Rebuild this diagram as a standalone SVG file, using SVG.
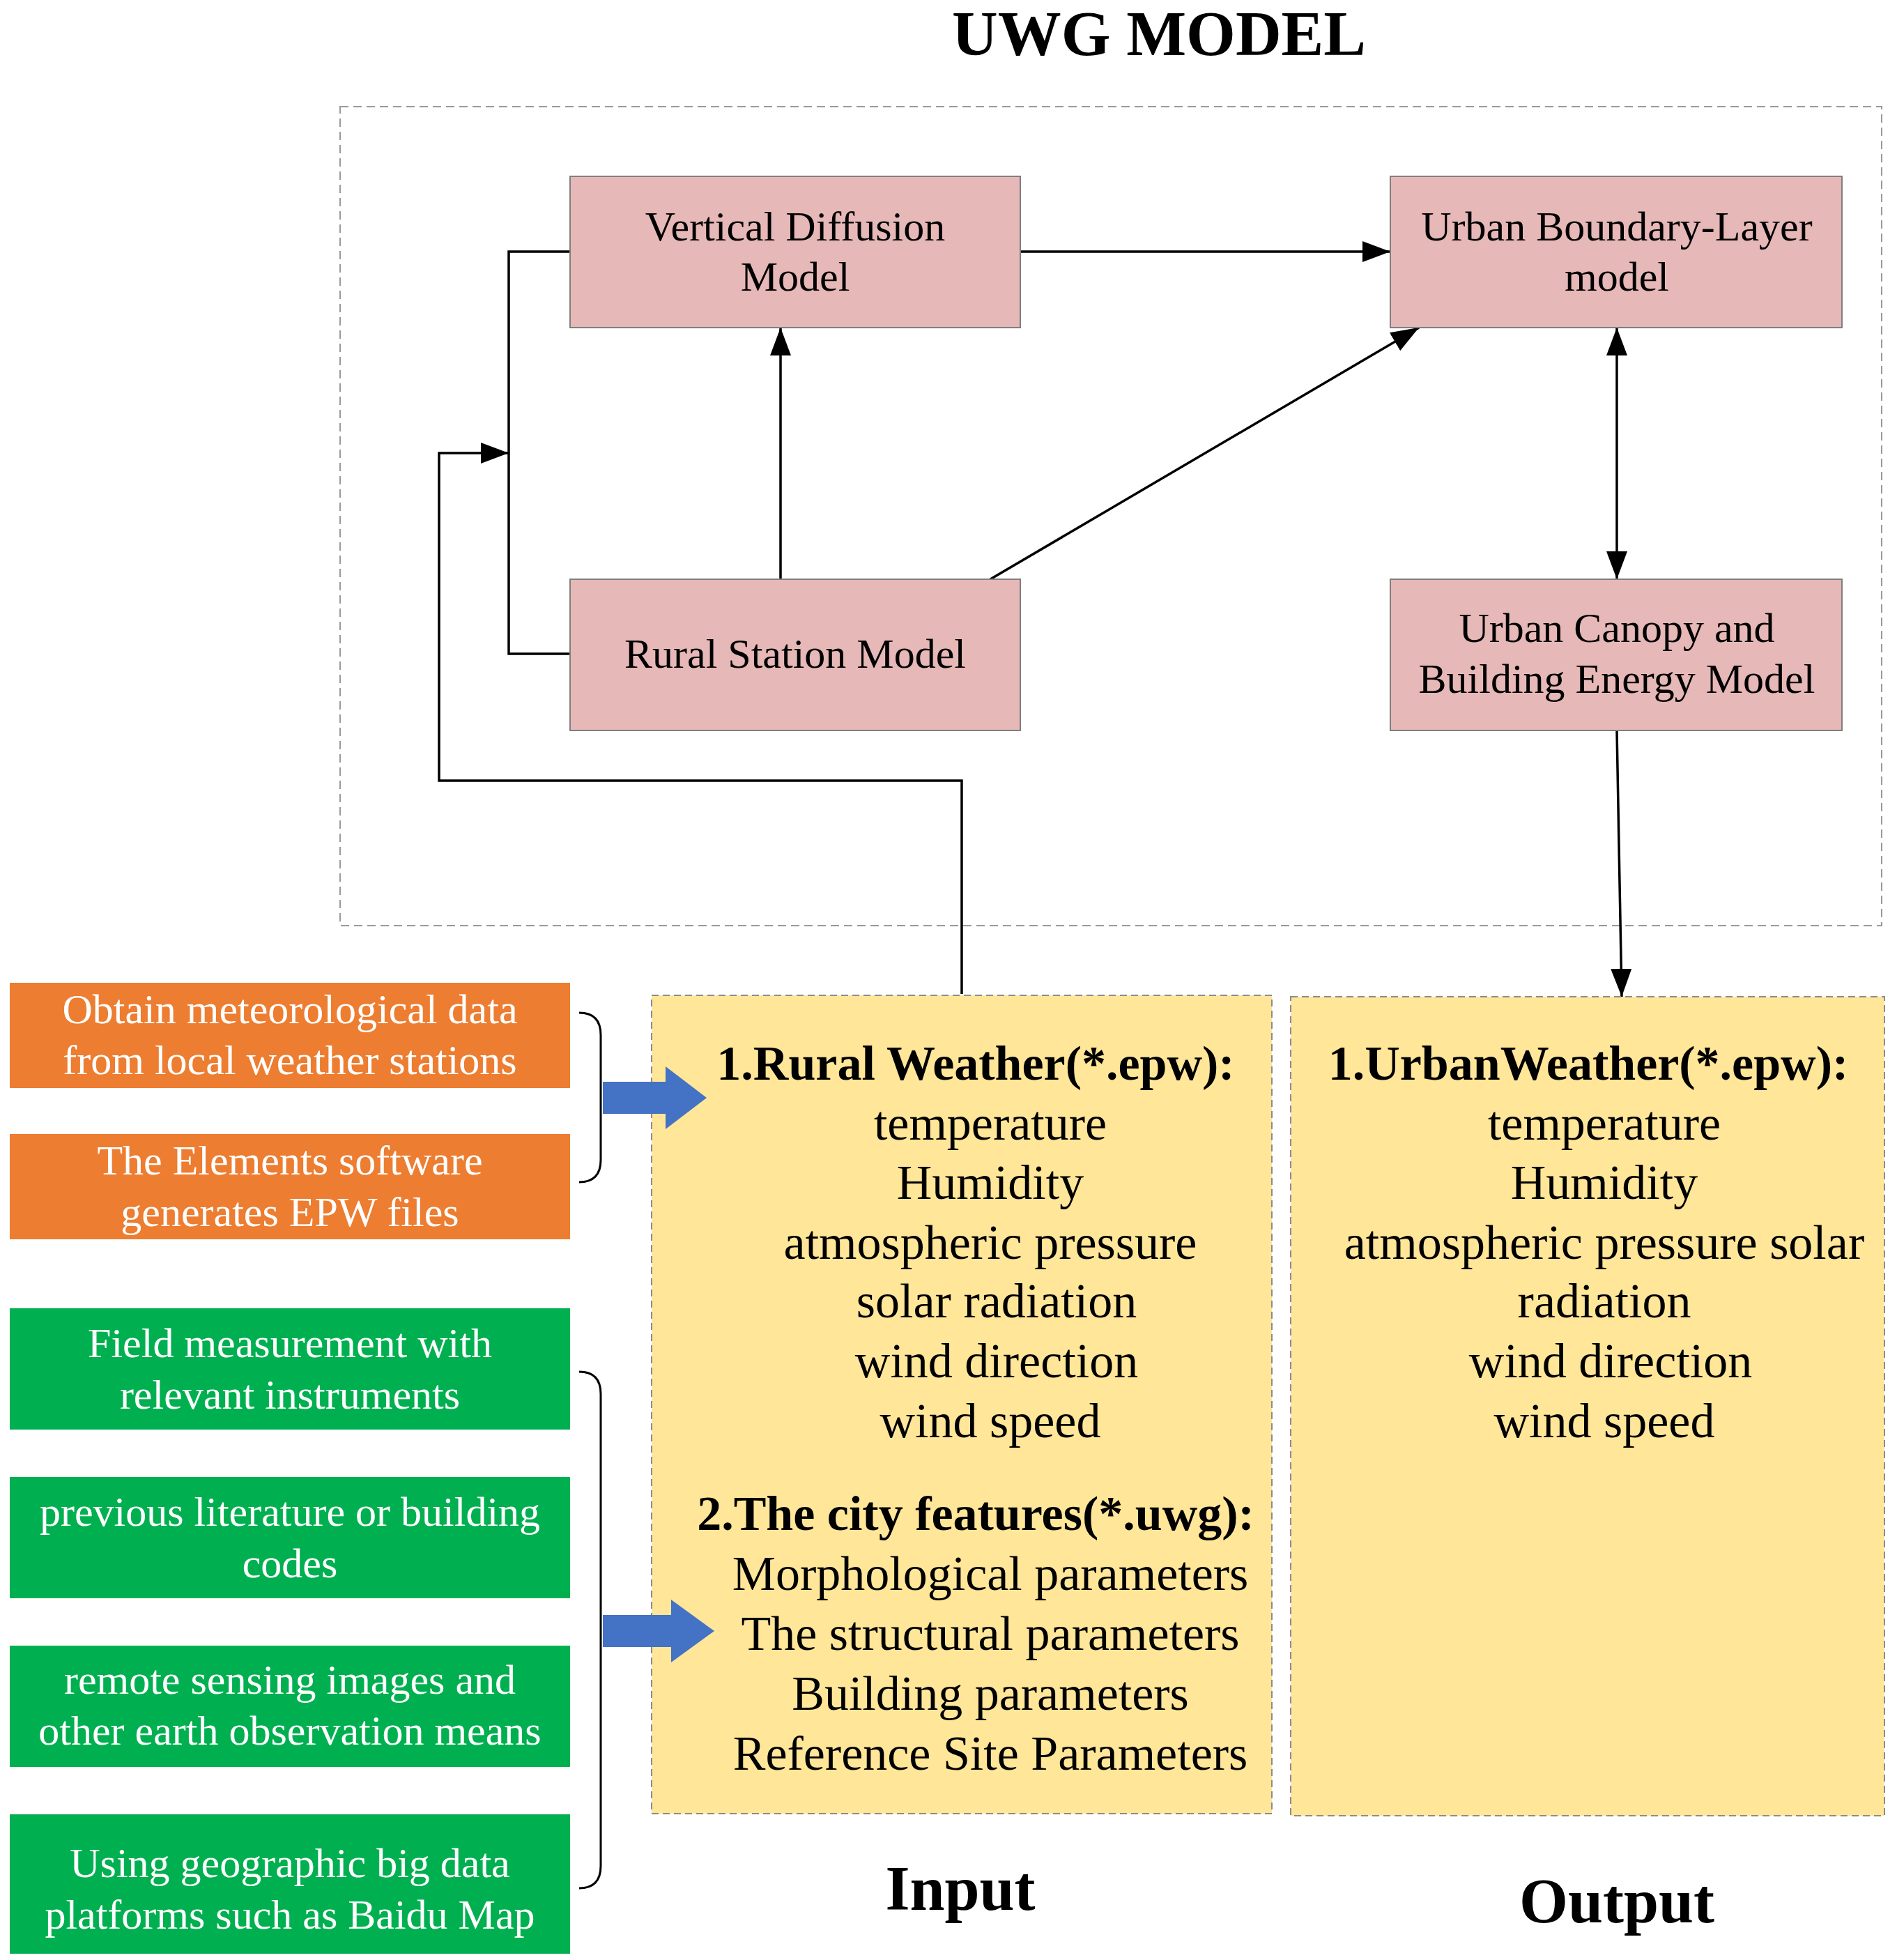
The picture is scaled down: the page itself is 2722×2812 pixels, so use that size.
<svg xmlns="http://www.w3.org/2000/svg" width="2722" height="2812" viewBox="0 0 2722 2812">
<style>
text{font-family:"Liberation Serif","Times New Roman",serif;text-anchor:middle;dominant-baseline:central}
.m{fill:#e6b8b7;stroke:#7f7f7f;stroke-width:2}
.mt{font-size:60px;fill:#000}
.y{fill:#ffe699;stroke:#8c8c8c;stroke-width:2;stroke-dasharray:10 6}
.yt{font-size:70px;fill:#000}
.b{font-weight:bold}
.o{fill:#ed7d31}
.g{fill:#00b050}
.wt{font-size:60px;fill:#fff}
.c{fill:none;stroke:#000;stroke-width:3.5}
.br{fill:none;stroke:#000;stroke-width:3}
</style>
<defs>
<marker id="h" viewBox="0 0 40 30" refX="40" refY="15" markerWidth="40" markerHeight="30" orient="auto-start-reverse" markerUnits="userSpaceOnUse"><path d="M0,0 L40,15 L0,30 Z" fill="#000"/></marker>
</defs>
<text x="1663" y="48" class="b" style="font-size:91px">UWG MODEL</text>
<rect x="488" y="153" width="2212" height="1175" fill="none" stroke="#9a9a9a" stroke-width="2" stroke-dasharray="12 7"/>
<g id="connectors">
<line class="c" x1="1464" y1="361" x2="1995" y2="361" marker-end="url(#h)"/>
<line class="c" x1="1120" y1="831" x2="1120" y2="470" marker-end="url(#h)"/>
<line class="c" x1="1421" y1="831" x2="2036" y2="470" marker-end="url(#h)"/>
<line class="c" x1="2320" y1="470" x2="2320" y2="831" marker-start="url(#h)" marker-end="url(#h)"/>
<polyline class="c" points="818,361 730,361 730,938 818,938"/>
<polyline class="c" points="1380,1426 1380,1120 630,1120 630,650 730,650" marker-end="url(#h)"/>
<line class="c" x1="2320" y1="1048" x2="2327" y2="1430" marker-end="url(#h)"/>
</g>
<g id="vdm"><rect class="m" x="818" y="253" width="646" height="217"/><text class="mt" x="1141" y="325">Vertical Diffusion</text><text class="mt" x="1141" y="397">Model</text></g>
<g id="ubl"><rect class="m" x="1995" y="253" width="648" height="217"/><text class="mt" x="2320" y="325">Urban Boundary-Layer</text><text class="mt" x="2320" y="397">model</text></g>
<g id="rsm"><rect class="m" x="818" y="831" width="646" height="217"/><text class="mt" x="1141" y="938">Rural Station Model</text></g>
<g id="ucbem"><rect class="m" x="1995" y="831" width="648" height="217"/><text class="mt" x="2320" y="901">Urban Canopy and</text><text class="mt" x="2320" y="974">Building Energy Model</text></g>
<g id="input"><rect class="y" x="935" y="1428" width="890" height="1174"/>
<text class="yt b" x="1400" y="1525">1.Rural Weather(*.epw):</text>
<text class="yt" x="1421" y="1611">temperature</text>
<text class="yt" x="1421" y="1696">Humidity</text>
<text class="yt" x="1421" y="1782">atmospheric pressure</text>
<text class="yt" x="1430" y="1866">solar radiation</text>
<text class="yt" x="1430" y="1952">wind direction</text>
<text class="yt" x="1421" y="2038">wind speed</text>
<text class="yt b" x="1400" y="2171">2.The city features(*.uwg):</text>
<text class="yt" x="1421" y="2257">Morphological parameters</text>
<text class="yt" x="1421" y="2343">The structural parameters</text>
<text class="yt" x="1421" y="2429">Building parameters</text>
<text class="yt" x="1421" y="2515">Reference Site Parameters</text>
</g>
<g id="output"><rect class="y" x="1852" y="1430" width="852" height="1175"/>
<text class="yt b" x="2279" y="1525">1.UrbanWeather(*.epw):</text>
<text class="yt" x="2302" y="1611">temperature</text>
<text class="yt" x="2302" y="1696">Humidity</text>
<text class="yt" x="2302" y="1782">atmospheric pressure solar</text>
<text class="yt" x="2302" y="1866">radiation</text>
<text class="yt" x="2311" y="1952">wind direction</text>
<text class="yt" x="2302" y="2038">wind speed</text>
</g>
<text class="b" x="1378" y="2709" style="font-size:90px">Input</text>
<text class="b" x="2320" y="2727" style="font-size:90px">Output</text>
<g id="o1"><rect class="o" x="14" y="1410" width="804" height="151"/><text class="wt" x="416" y="1448">Obtain meteorological data</text><text class="wt" x="416" y="1521">from local weather stations</text></g>
<g id="o2"><rect class="o" x="14" y="1627" width="804" height="151"/><text class="wt" x="416" y="1665">The Elements software</text><text class="wt" x="416" y="1739">generates EPW files</text></g>
<g id="g1"><rect class="g" x="14" y="1877" width="804" height="174"/><text class="wt" x="416" y="1927">Field measurement with</text><text class="wt" x="416" y="2001">relevant instruments</text></g>
<g id="g2"><rect class="g" x="14" y="2119" width="804" height="174"/><text class="wt" x="416" y="2169">previous literature or building</text><text class="wt" x="416" y="2243">codes</text></g>
<g id="g3"><rect class="g" x="14" y="2361" width="804" height="174"/><text class="wt" x="416" y="2410">remote sensing images and</text><text class="wt" x="416" y="2483">other earth observation means</text></g>
<g id="g4"><rect class="g" x="14" y="2603" width="804" height="200"/><text class="wt" x="416" y="2673">Using geographic big data</text><text class="wt" x="416" y="2747">platforms such as Baidu Map</text></g>
<path class="br" d="M831,1453 Q862,1453 862,1485 L862,1664 Q862,1696 831,1696"/>
<path class="br" d="M831,1968 Q862,1968 862,2000 L862,2677 Q862,2709 831,2709"/>
<path d="M865,1552 L955,1552 L955,1530 L1014,1575 L955,1620 L955,1598 L865,1598 Z" fill="#4472c4"/>
<path d="M865,2317 L963,2317 L963,2295 L1025,2340 L963,2385 L963,2363 L865,2363 Z" fill="#4472c4"/>
</svg>
